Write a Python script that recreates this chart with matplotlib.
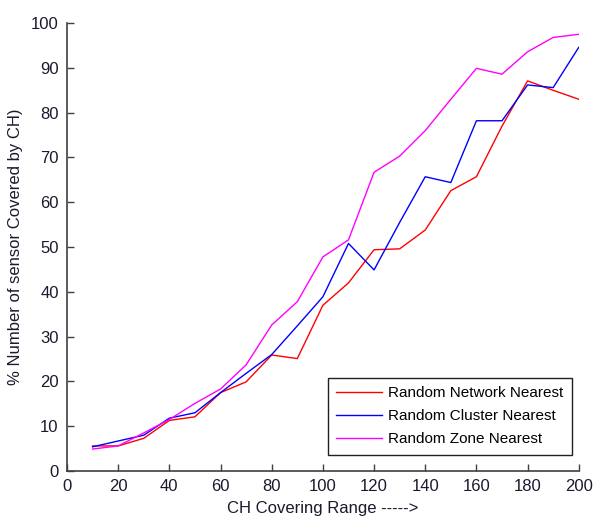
import matplotlib
matplotlib.use('Agg')
import matplotlib.pyplot as plt

# CH covering range
ch_range = [10, 20, 30, 40, 50, 60, 70, 80, 90, 100,
            110, 120, 130, 140, 150, 160, 170, 180, 190, 200]

# % of sensors covered by CH
network_nearest = [5.6, 5.6, 7.3, 11.3, 12.1, 17.5, 19.9, 25.9, 25.1, 37.0,
                   42.0, 49.4, 49.6, 53.8, 62.6, 65.7, 77.0, 87.1, 85.0, 83.0]
cluster_nearest = [5.4, 6.7, 8.0, 11.8, 13.0, 17.5, 21.8, 26.0, 32.4, 38.9,
                   50.8, 44.9, 55.5, 65.7, 64.4, 78.2, 78.2, 86.2, 85.6, 94.6]
zone_nearest = [4.9, 5.6, 8.5, 11.5, 15.1, 18.3, 23.7, 32.6, 37.8, 47.8,
                51.6, 66.7, 70.3, 76.0, 83.0, 89.9, 88.6, 93.6, 96.8, 97.5]

labels = ["Random Network Nearest", "Random Cluster Nearest", "Random Zone Nearest"]

plt.rcParams['font.family'] = ['Liberation Sans', 'DejaVu Sans']

fig = plt.figure(figsize=(5.93, 5.16), dpi=100)
ax = fig.add_axes([0.113, 0.0872, 0.863, 0.868])

ax.plot(ch_range, network_nearest, color='#ff0000', lw=1.0, label=labels[0])
ax.plot(ch_range, cluster_nearest, color='#0000ff', lw=1.0, label=labels[1])
ax.plot(ch_range, zone_nearest, color='#ff00ff', lw=1.0, label=labels[2])

ax.set_xlim(0, 200)
ax.set_ylim(0, 100)
ax.set_xticks(range(0, 201, 20))
ax.set_yticks(range(0, 101, 10))

for s in ['top', 'right']:
    ax.spines[s].set_visible(False)
for s in ['left', 'bottom']:
    ax.spines[s].set_color('#404040')
    ax.spines[s].set_linewidth(1.2)

ax.tick_params(direction='in', length=5, width=1.0, color='#404040',
               labelsize=12, labelcolor='#1a1a2e', pad=6)

ax.set_xlabel("CH Covering Range ----->", fontsize=12, color='#1a1a2e', labelpad=5)
ax.set_ylabel("% Number of sensor Covered by CH)", fontsize=12, color='#1a1a2e', labelpad=6)

leg = ax.legend(loc='lower right', bbox_to_anchor=(0.986, 0.036), fontsize=11,
                fancybox=False, framealpha=1, edgecolor='#202020',
                handlelength=3.0, handletextpad=0.4, borderpad=0.55,
                labelspacing=0.6, borderaxespad=0)
leg.get_frame().set_linewidth(1.0)

fig.savefig("out.png", dpi=100)
